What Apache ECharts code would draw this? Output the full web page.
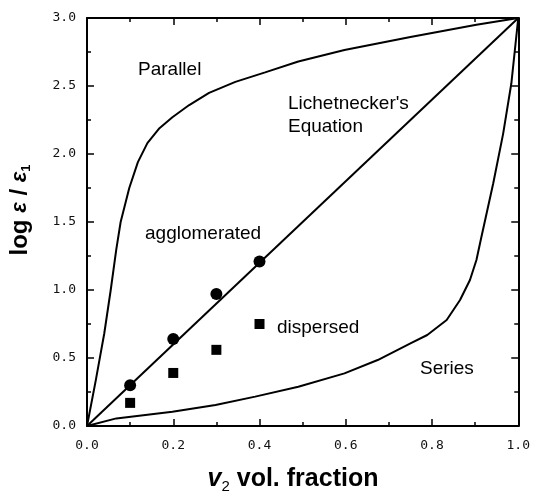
<!DOCTYPE html>
<html>
<head>
<meta charset="utf-8">
<script src="https://cdn.jsdelivr.net/npm/echarts@6/dist/echarts.min.js"></script>
<style>
  html, body { margin: 0; padding: 0; background: #fff; }
  #main { width: 533px; height: 497px; }
</style>
</head>
<body>
<div id="main"></div>
<script>
// curves: [v2, log eps/eps1]
var parallelCurve = [[0, 0], [0.02, 0.33], [0.04, 0.68], [0.055, 1.0], [0.068, 1.3], [0.078, 1.5],
  [0.098, 1.75], [0.118, 1.94], [0.14, 2.08], [0.168, 2.19], [0.198, 2.27], [0.237, 2.36],
  [0.283, 2.45], [0.344, 2.53], [0.413, 2.6], [0.49, 2.68], [0.597, 2.765], [0.75, 2.86],
  [0.903, 2.95], [1, 3]];
var lichteneckerLine = [[0, 0], [1, 3]];
var seriesCurve = [[0, 0], [0.068, 0.056], [0.198, 0.105], [0.298, 0.154], [0.39, 0.216],
  [0.49, 0.289], [0.597, 0.387], [0.674, 0.485], [0.75, 0.608], [0.789, 0.669], [0.834, 0.779],
  [0.865, 0.926], [0.888, 1.074], [0.903, 1.221], [0.913, 1.368], [0.942, 1.785], [0.965, 2.15],
  [0.984, 2.52], [1, 3]];

// measured points
var fractions = [0.1, 0.2, 0.3, 0.4];
var agglomerated = [0.30, 0.64, 0.97, 1.21];
var dispersed = [0.17, 0.39, 0.56, 0.75];

function pairs(xs, ys) {
  return xs.map(function (x, i) { return [x, ys[i]]; });
}

var chart = echarts.init(document.getElementById('main'));

// every axis gets its own copies, ticks point into the plot
function axis(extra) {
  return Object.assign({
    type: 'value',
    axisLine: { show: true, onZero: false, lineStyle: { color: '#000', width: 2 } },
    axisTick: { show: true, inside: true, length: 7, lineStyle: { color: '#000', width: 1.5 } },
    minorTick: { show: true, splitNumber: 2, length: 4, lineStyle: { color: '#000', width: 1.5 } },
    splitLine: { show: false }
  }, extra);
}

function label(margin) {
  return {
    margin: margin, fontFamily: 'DejaVu Sans Mono', fontSize: 13, color: '#111',
    formatter: function (v) { return v.toFixed(1); }
  };
}

function lineSeries(name, data) {
  return {
    name: name, type: 'line', data: data, showSymbol: false, symbol: 'none',
    lineStyle: { color: '#000', width: 2 }, z: 3
  };
}

var option = {
  animation: false,
  grid: { left: 87, right: 11, top: 18, bottom: 71 },
  xAxis: [
    axis({ position: 'bottom', min: 0, max: 1, interval: 0.2, axisLabel: label(13) }),
    axis({ position: 'top', min: 0, max: 1, interval: 0.2, axisLabel: { show: false } })
  ],
  yAxis: [
    axis({ position: 'left', min: 0, max: 3, interval: 0.5, axisLabel: label(11) }),
    axis({ position: 'right', min: 0, max: 3, interval: 0.5, axisLabel: { show: false } })
  ],
  series: [
    lineSeries('Parallel', parallelCurve),
    lineSeries("Lichetnecker's Equation", lichteneckerLine),
    lineSeries('Series', seriesCurve),
    {
      name: 'agglomerated', type: 'scatter', data: pairs(fractions, agglomerated),
      symbol: 'circle', symbolSize: 12, itemStyle: { color: '#000', opacity: 1 }, z: 4
    },
    {
      name: 'dispersed', type: 'scatter', data: pairs(fractions, dispersed),
      symbol: 'rect', symbolSize: 10, itemStyle: { color: '#000', opacity: 1 }, z: 4
    }
  ],
  graphic: [
    {
      type: 'text', x: 20, y: 210, rotation: Math.PI / 2,
      style: {
        text: '{a|log }{e|ε}{a| / }{e|ε}{s|1}',
        align: 'center', verticalAlign: 'middle', fill: '#000',
        rich: {
          a: { fontFamily: 'Liberation Sans', fontWeight: 'bold', fontSize: 24, fill: '#000' },
          e: { fontFamily: 'Liberation Sans', fontWeight: 'bold', fontStyle: 'italic', fontSize: 22, fill: '#000' },
          s: { fontFamily: 'Liberation Sans', fontWeight: 'bold', fontSize: 13, padding: [12, 0, 0, 0], fill: '#000' }
        }
      }
    },
    {
      type: 'text', x: 293, y: 479,
      style: {
        text: '{v|v}{s|2}{a| vol. fraction}',
        align: 'center', verticalAlign: 'middle', fill: '#000',
        rich: {
          v: { fontFamily: 'Liberation Sans', fontWeight: 'bold', fontStyle: 'italic', fontSize: 25, fill: '#000' },
          s: { fontFamily: 'Liberation Sans', fontSize: 15, padding: [16, 0, 0, 0], fill: '#000' },
          a: { fontFamily: 'Liberation Sans', fontWeight: 'bold', fontSize: 25, fill: '#000' }
        }
      }
    },
    { type: 'text', x: 138, y: 69.5, style: { text: 'Parallel', font: '19px "Liberation Sans"', fill: '#000', verticalAlign: 'middle' } },
    { type: 'text', x: 288, y: 103.5, style: { text: "Lichetnecker's", font: '19px "Liberation Sans"', fill: '#000', verticalAlign: 'middle' } },
    { type: 'text', x: 288, y: 126.5, style: { text: 'Equation', font: '19px "Liberation Sans"', fill: '#000', verticalAlign: 'middle' } },
    { type: 'text', x: 145, y: 233.5, style: { text: 'agglomerated', font: '19px "Liberation Sans"', fill: '#000', verticalAlign: 'middle' } },
    { type: 'text', x: 277, y: 327.5, style: { text: 'dispersed', font: '19px "Liberation Sans"', fill: '#000', verticalAlign: 'middle' } },
    { type: 'text', x: 420, y: 368.5, style: { text: 'Series', font: '19px "Liberation Sans"', fill: '#000', verticalAlign: 'middle' } }
  ]
};

chart.setOption(option);
</script>
</body>
</html>
